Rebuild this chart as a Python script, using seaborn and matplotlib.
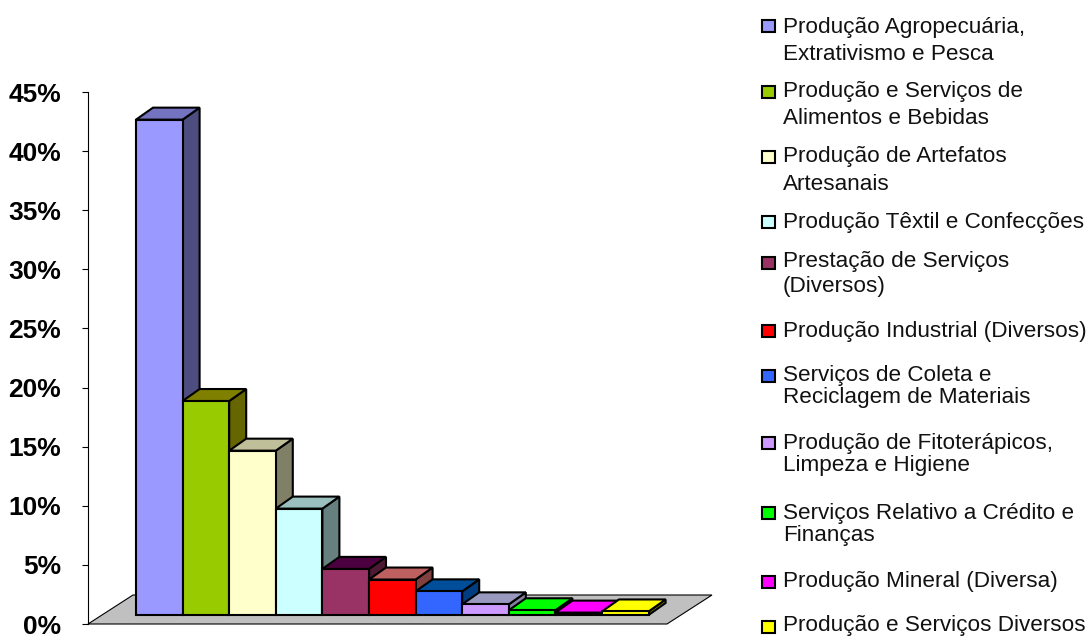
import matplotlib
matplotlib.use("Agg")
import matplotlib.pyplot as plt
from matplotlib.patches import Polygon, Rectangle
import seaborn as sns

# valores (%)
categorias = [
    "Produção Agropecuária,\nExtrativismo e Pesca",
    "Produção e Serviços de\nAlimentos e Bebidas",
    "Produção de Artefatos\nArtesanais",
    "Produção Têxtil e Confecções",
    "Prestação de Serviços\n(Diversos)",
    "Produção Industrial (Diversos)",
    "Serviços de Coleta e\nReciclagem de Materiais",
    "Produção de Fitoterápicos,\nLimpeza e Higiene",
    "Serviços Relativo a Crédito e\nFinanças",
    "Produção Mineral (Diversa)",
    "Produção e Serviços Diversos",
]
valores = [41.9, 18.1, 13.9, 9.0, 3.9, 3.0, 2.0, 0.9, 0.4, 0.2, 0.3]
yticks = [0, 5, 10, 15, 20, 25, 30, 35, 40, 45]

cor_frente = ["#9999FF", "#99CC00", "#FFFFCC", "#CCFFFF", "#993366", "#FF0000",
              "#3366FF", "#CC99FF", "#00FF00", "#FF00FF", "#FFFF00"]
cor_topo = ["#7373BF", "#808000", "#BFBF99", "#99BFBF", "#4D0040", "#BF6060",
            "#004D99", "#9999BF", "#00FF00", "#FF00FF", "#FFFF00"]
cor_lado = ["#4D4D80", "#666600", "#808066", "#668080", "#4D1A33", "#804040",
            "#003D80", "#8080A0", "#008000", "#800080", "#808000"]

# layout em pixels
W, H = 1088, 637
EIXO_X, EIXO_Y0, EIXO_Y45 = 88, 624, 92
BARRA_X0, BARRA_W = 136, 46.6
PX_POR_PCT = (EIXO_Y0 - EIXO_Y45) / 45
BASE_PX = 9
PROF_X, PROF_Y = 17, 12
PISO_DX, PISO_DY, PISO_DIR = 45, 29, 667
DIREITA = 712

# y do marcador e y de cada linha do texto da legenda
leg_marcador = [26, 92, 157, 222, 263, 331, 376, 443, 513, 582, 627]
leg_linhas = [[27, 54], [92, 119], [157, 184], [222], [261, 286], [331],
              [375, 398], [443, 466], [513, 536], [582], [626]]

sns.set_style("white")
plt.rcParams["font.family"] = ["Liberation Sans", "DejaVu Sans"]

fig = plt.figure(figsize=(W / 100, H / 100), dpi=100)
ax = fig.add_axes([EIXO_X / W, 1 - EIXO_Y0 / H, (DIREITA - EIXO_X) / W, (EIXO_Y0 - EIXO_Y45) / H])
ax.patch.set_alpha(0)

sns.barplot(x=categorias, y=valores, hue=categorias, palette=cor_frente, width=1,
            saturation=1, bottom=BASE_PX / PX_POR_PCT, edgecolor="black", linewidth=1.5,
            legend=False, ax=ax)

ax.set_xlim((EIXO_X - BARRA_X0) / BARRA_W - 0.5, (DIREITA - BARRA_X0) / BARRA_W - 0.5)
ax.set_ylim(0, 45)

dx = PROF_X / BARRA_W
dy = PROF_Y / PX_POR_PCT

# piso cinza
x0 = ax.get_xlim()[0]
x1 = (PISO_DIR - BARRA_X0) / BARRA_W - 0.5
pdx, pdy = PISO_DX / BARRA_W, PISO_DY / PX_POR_PCT
ax.add_patch(Polygon([(x0, 0), (x1, 0), (x1 + pdx, pdy), (x0 + pdx, pdy)],
                     closed=True, facecolor="#C0C0C0", edgecolor="black", linewidth=0.8,
                     zorder=0, clip_on=False))

# faces laterais e de cima de cada barra, da esquerda para a direita
for i, barra in enumerate(ax.patches[:len(valores)]):
    xa = barra.get_x()
    xb = xa + barra.get_width()
    yb = barra.get_y()
    yt = yb + barra.get_height()
    barra.set_zorder(3 * i + 3)
    ax.add_patch(Polygon([(xb, yb), (xb + dx, yb + dy), (xb + dx, yt + dy), (xb, yt)],
                         closed=True, facecolor=cor_lado[i], edgecolor="black",
                         linewidth=1.5, zorder=3 * i + 1, clip_on=False))
    ax.add_patch(Polygon([(xa, yt), (xb, yt), (xb + dx, yt + dy), (xa + dx, yt + dy)],
                         closed=True, facecolor=cor_topo[i], edgecolor="black",
                         linewidth=1.5, zorder=3 * i + 2, clip_on=False))

sns.despine(ax=ax, top=True, right=True, bottom=True)
ax.spines["left"].set_color("black")
ax.spines["left"].set_linewidth(0.8)
ax.set_xticks([])
ax.set_yticks(yticks)
ax.set_yticklabels([f"{v}%" for v in yticks], fontsize=19, fontweight="bold", color="black")
ax.tick_params(axis="y", left=True, length=4.5, width=0.8, color="black", pad=15)

# legenda manual: o espacamento original e irregular
for rotulo, cor, ym, ylin in zip(categorias, cor_frente, leg_marcador, leg_linhas):
    fig.add_artist(Rectangle((762 / W, 1 - (ym + 6) / H), 13 / W, 12 / H, transform=fig.transFigure,
                             facecolor=cor, edgecolor="black", linewidth=1.5))
    for linha, y in zip(rotulo.split("\n"), ylin):
        fig.text(783 / W, 1 - y / H, linha, fontsize=16.2, color="#111111", ha="left", va="center")

fig.savefig("out.png", dpi=100)
